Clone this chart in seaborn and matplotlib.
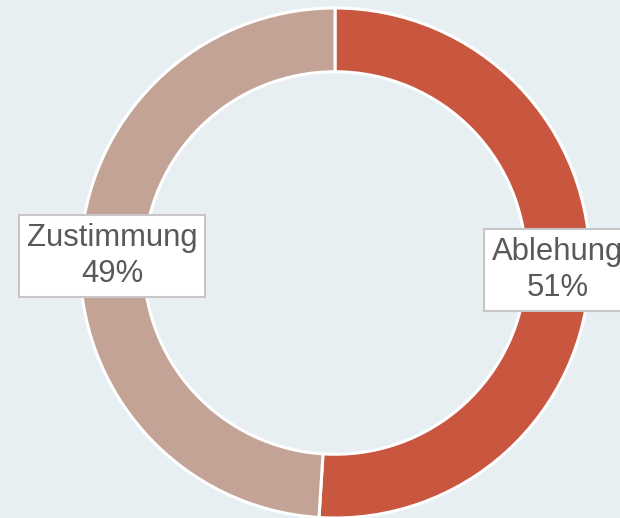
import matplotlib
matplotlib.use("Agg")
import matplotlib.pyplot as plt
import seaborn as sns

categories = ["Ablehung", "Zustimmung"]
values = [51, 49]
colors = ["#c9563f", "#c4a397"]

sns.set_theme(style="white")
plt.rcParams['font.family'] = ['Liberation Sans', 'DejaVu Sans']

bg = "#e7eff2"
fig = plt.figure(figsize=(6.2, 5.18), dpi=100, facecolor=bg)
ax = fig.add_axes([0, 0, 1, 1])
ax.set_facecolor(bg)

labels = [f"{c}\n{v}%" for c, v in zip(categories, values)]
wedges, texts = ax.pie(values, labels=labels, colors=colors, startangle=90,
                       counterclock=False, radius=1.0, labeldistance=0.875,
                       wedgeprops=dict(width=0.25, edgecolor="white", linewidth=2.2),
                       textprops=dict(fontsize=22.3, color="#595959"))
for t in texts:
    t.set_ha("center")
    t.set_va("center")
    t.set_multialignment("center")
    t.set_linespacing(1.22)
    t.set_bbox(dict(boxstyle="square,pad=0.26", fc="white", ec="#c6c6c6", lw=1.5))

ax.set_xlim(-335 / 255, (620 - 335) / 255)
ax.set_ylim(-(518 - 263) / 255, 263 / 255)
ax.set_aspect("equal")
ax.axis("off")

fig.savefig("out.png", dpi=100, facecolor=bg)
